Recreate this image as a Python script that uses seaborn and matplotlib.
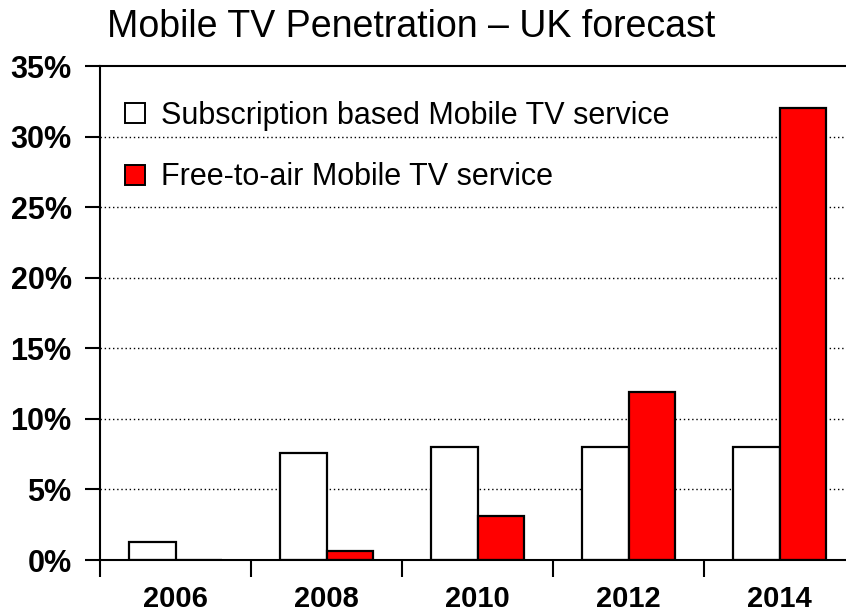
import matplotlib
matplotlib.use("Agg")
import matplotlib.pyplot as plt
import seaborn as sns
import pandas as pd
from matplotlib.lines import Line2D
from matplotlib.ticker import FuncFormatter, FixedLocator

years = ["2006", "2008", "2010", "2012", "2014"]
subscription = [1.25, 7.6, 8.0, 8.0, 8.0]
free_to_air = [0.0, 0.65, 3.1, 11.9, 32.0]
series_names = ["Subscription based Mobile TV service", "Free-to-air Mobile TV service"]
colors = ["white", "#ff0000"]
title = "Mobile TV Penetration \u2013 UK forecast"

df = pd.DataFrame({
    "year": years * 2,
    "value": subscription + free_to_air,
    "series": [series_names[0]] * len(years) + [series_names[1]] * len(years),
})

sns.set_style("white")
plt.rcParams["font.family"] = ["Liberation Sans", "DejaVu Sans"]
plt.rcParams["text.color"] = "black"
plt.rcParams["xtick.color"] = "black"
plt.rcParams["ytick.color"] = "black"

fig = plt.figure(figsize=(8.46, 6.13), dpi=100)
ax = fig.add_axes([100 / 846, 53 / 613, 755 / 846, 494 / 613])

sns.barplot(data=df, x="year", y="value", hue="series", palette=colors,
            edgecolor="black", linewidth=1.6, width=0.61, ax=ax, legend=False,
            saturation=1)

ax.set_xlim(-0.5, 4.5)
ax.set_ylim(0, 35)
ax.set_axisbelow(True)
for v in range(5, 35, 5):
    ax.axhline(v, color="black", lw=1.0, ls=(0, (1, 2)), zorder=0)

ax.yaxis.set_major_locator(FixedLocator(list(range(0, 36, 5))))
ax.yaxis.set_major_formatter(FuncFormatter(lambda v, p: f"{int(v)}%"))
ax.tick_params(axis="y", which="major", direction="out", length=11, width=1.5,
               labelsize=22, pad=9.5, left=True, color="black", labelcolor="black")
for lab in ax.get_yticklabels():
    lab.set_fontweight("bold")

ax.tick_params(axis="x", which="major", length=0, labelsize=21, pad=18, labelcolor="black")
for lab in ax.get_xticklabels():
    lab.set_fontweight("bold")
ax.xaxis.set_minor_locator(FixedLocator([-0.5, 0.5, 1.5, 2.5, 3.5]))
ax.tick_params(axis="x", which="minor", direction="out", length=12, width=1.5,
               bottom=True, color="black")

ax.set_xlabel("")
ax.set_ylabel("")
for s in ["top", "left", "bottom"]:
    ax.spines[s].set_visible(True)
    ax.spines[s].set_color("black")
    ax.spines[s].set_linewidth(1.5)
ax.spines["right"].set_visible(False)

handles = [Line2D([], [], marker="s", ls="none", markersize=14,
                  markerfacecolor=c, markeredgecolor="black", markeredgewidth=1.4)
           for c in colors]
leg = ax.legend(handles, series_names, loc="upper left", bbox_to_anchor=(-0.0056, 0.985),
                frameon=False, fontsize=22, handlelength=0.8, handletextpad=0.45,
                labelspacing=1.03)
for t in leg.get_texts():
    t.set_color("black")

fig.text(107 / 846, 1 - 37 / 613, title, fontsize=27, va="baseline", ha="left", color="black")

fig.savefig("out.png", dpi=100)
